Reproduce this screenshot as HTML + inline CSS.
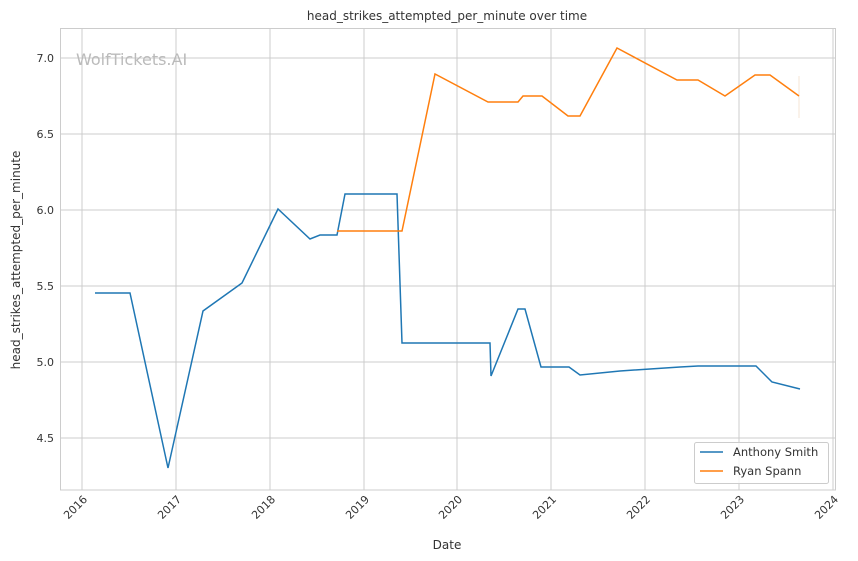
<!DOCTYPE html>
<html><head><style>body{margin:0;background:#fff}svg{display:block}text{font-family:"DejaVu Sans","Liberation Sans",sans-serif;fill:#333}</style></head>
<body>
<svg width="858" height="561" viewBox="0 0 858 561">
<rect width="858" height="561" fill="#fff"/>
<g stroke="#cccccc" stroke-width="1">
<line x1="82" y1="28" x2="82" y2="490"/><line x1="176" y1="28" x2="176" y2="490"/><line x1="270" y1="28" x2="270" y2="490"/><line x1="364" y1="28" x2="364" y2="490"/><line x1="457" y1="28" x2="457" y2="490"/><line x1="551" y1="28" x2="551" y2="490"/><line x1="645" y1="28" x2="645" y2="490"/><line x1="739" y1="28" x2="739" y2="490"/><line x1="833" y1="28" x2="833" y2="490"/>
<line x1="60" y1="58" x2="836" y2="58"/><line x1="60" y1="134" x2="836" y2="134"/><line x1="60" y1="210" x2="836" y2="210"/><line x1="60" y1="286" x2="836" y2="286"/><line x1="60" y1="362" x2="836" y2="362"/><line x1="60" y1="438" x2="836" y2="438"/>
</g>
<rect x="60.5" y="28.5" width="775" height="461.5" fill="none" stroke="#cccccc"/>
<text x="76" y="65" font-size="16" style="fill:#bbb">WolfTickets.AI</text>
<line x1="799" y1="76" x2="799" y2="118" stroke="#f4e4d6"/>
<polyline fill="none" stroke="#1f77b4" stroke-width="1.5" points="95,293 130,293 168,468 203,311 242,283 278,209 310,239 320,235 337,235 345,194 397,194 402,343 490,343 491,376 518,309 525,309 541,367 569,367 580,375 620,371 680,367 698,366 756,366 772,382 800,389"/>
<polyline fill="none" stroke="#ff7f0e" stroke-width="1.5" points="337,231 402,231 435,74 488,102 518,102 523,96 542,96 568,116 580,116 617,48 677,80 698,80 725,96 755,75 770,75 799,96"/>
<g font-size="11" text-anchor="end">
<text x="54" y="62">7.0</text><text x="54" y="138">6.5</text><text x="54" y="214">6.0</text><text x="54" y="290">5.5</text><text x="54" y="366">5.0</text><text x="54" y="442">4.5</text>
</g>
<g font-size="11" text-anchor="end">
<text transform="translate(88,500) rotate(-45)">2016</text><text transform="translate(182,500) rotate(-45)">2017</text><text transform="translate(276,500) rotate(-45)">2018</text><text transform="translate(370,500) rotate(-45)">2019</text><text transform="translate(463,500) rotate(-45)">2020</text><text transform="translate(557,500) rotate(-45)">2021</text><text transform="translate(651,500) rotate(-45)">2022</text><text transform="translate(745,500) rotate(-45)">2023</text><text transform="translate(839,500) rotate(-45)">2024</text>
</g>
<text x="447" y="549" font-size="12" text-anchor="middle">Date</text>
<text transform="translate(20,260) rotate(-90)" font-size="12" text-anchor="middle">head_strikes_attempted_per_minute</text>
<text x="447" y="20" font-size="12" text-anchor="middle">head_strikes_attempted_per_minute over time</text>
<rect x="694.5" y="442.5" width="134" height="41" rx="2" fill="#fff" fill-opacity="0.8" stroke="#cccccc"/>
<line x1="700" y1="452" x2="723" y2="452" stroke="#1f77b4" stroke-width="1.5"/>
<line x1="700" y1="471" x2="723" y2="471" stroke="#ff7f0e" stroke-width="1.5"/>
<text x="733" y="456" font-size="11.5">Anthony Smith</text>
<text x="733" y="475" font-size="11.5">Ryan Spann</text>
</svg>
</body></html>
